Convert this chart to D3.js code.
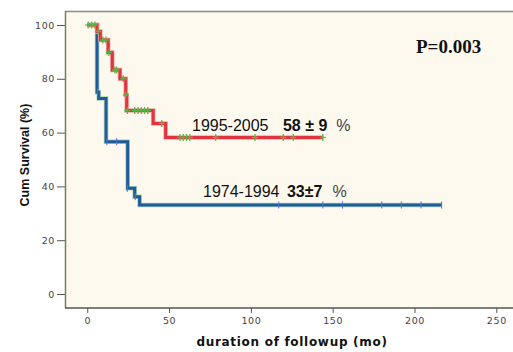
<!DOCTYPE html>
<html>
<head>
<meta charset="utf-8">
<script src="https://cdn.jsdelivr.net/npm/d3@7"></script>
<style>
  body { margin: 0; background: #fff; }
  svg { display: block; }
</style>
</head>
<body>
<div id="chart"></div>
<script>
// step points of each survival curve (time in months, cum survival in %)
const redTimes = [0, 6, 8, 12.8, 15.3, 20, 23.5, 24.1, 40.3, 47.9, 144];
const redSurv  = [100, 97.6, 94.4, 89.8, 83.3, 80, 74, 68.2, 63.4, 58.2, 58.2];
const redCensorTimes = [0.6, 2.7, 4.7, 6.6, 9.5, 11.4, 13.2, 16.9, 18, 22, 23.5,
                        24.5, 29, 31, 33, 35, 37, 45.5,
                        56.7, 58.7, 60.7, 62.7, 78.5, 102.5, 119.8, 125.9, 144];
const redCensorSurv  = [100, 100, 100, 97.6, 94.4, 94.4, 89.8, 83.3, 83.3, 80, 74,
                        68.2, 68.2, 68.2, 68.2, 68.2, 68.2, 63.4,
                        58.2, 58.2, 58.2, 58.2, 58.2, 58.2, 58.2, 58.2, 58.2];

const blueTimes = [0, 6, 7, 11.5, 24.7, 29, 32, 216.6];
const blueSurv  = [100, 75, 72.7, 56.6, 39.3, 36.2, 33.1, 33.1];
const blueCensorTimes = [6.3, 12, 18, 24.5, 29.3, 117, 144, 156, 180, 192, 204, 216.6];
const blueCensorSurv  = [75, 56.6, 56.6, 39.3, 36.2, 33.1, 33.1, 33.1, 33.1, 33.1, 33.1, 33.1];

const xTicks = [0, 50, 100, 150, 200, 250];
const yTicks = [0, 20, 40, 60, 80, 100];

const W = 513, H = 352;
const pLeft = 65, pRight = 513, pTop = 11, pBottom = 308;

const svg = d3.select("#chart").append("svg")
    .attr("width", W)
    .attr("height", H);

const x = d3.scaleLinear().domain([-13.6, 260.2]).range([pLeft, pRight]);
const y = d3.scaleLinear().domain([-5.2, 105.2]).range([pBottom, pTop]);

// plot background
svg.append("rect")
    .attr("x", pLeft).attr("y", pTop)
    .attr("width", pRight - pLeft).attr("height", pBottom - pTop)
    .attr("fill", "#fdf9ee");

// frame
svg.append("line")
    .attr("x1", pLeft).attr("x2", pRight).attr("y1", pTop + 0.5).attr("y2", pTop + 0.5)
    .attr("stroke", "#8a8a8a").attr("stroke-width", 1.5);

// axes
const xAxis = svg.append("g")
    .attr("transform", `translate(0,${pBottom})`)
    .call(d3.axisBottom(x).tickValues(xTicks).tickSize(5).tickPadding(4));
const yAxis = svg.append("g")
    .attr("transform", `translate(${pLeft},0)`)
    .call(d3.axisLeft(y).tickValues(yTicks).tickSize(8).tickPadding(2));

[xAxis, yAxis].forEach(a => {
    a.select(".domain").remove();
    a.selectAll("line").attr("stroke", "#555");
    a.selectAll("text")
        .attr("fill", "#444")
        .style("font-family", "DejaVu Sans, sans-serif")
        .style("font-size", "9.5px")
        .style("letter-spacing", "0.6px");
});

svg.append("line")
    .attr("x1", pLeft + 0.5).attr("x2", pLeft + 0.5).attr("y1", pTop).attr("y2", pBottom)
    .attr("stroke", "#6f7f66").attr("stroke-width", 1.5);
svg.append("line")
    .attr("x1", pLeft).attr("x2", pRight).attr("y1", pBottom).attr("y2", pBottom)
    .attr("stroke", "#555").attr("stroke-width", 1.5);

const line = d3.line()
    .x(d => x(d[0]))
    .y(d => y(d[1]))
    .curve(d3.curveStepAfter);

const bluePts = blueTimes.map((t, i) => [t, blueSurv[i]]);
const redPts = redTimes.map((t, i) => [t, redSurv[i]]);

// blue curve (1974-1994)
svg.append("path").datum(bluePts).attr("d", line)
    .attr("fill", "none").attr("stroke", "#a9cfb2").attr("stroke-width", 4.5);
svg.append("path").datum(bluePts).attr("d", line)
    .attr("fill", "none").attr("stroke", "#1f5c9c").attr("stroke-width", 3);

svg.selectAll(".bc")
    .data(blueCensorTimes.map((t, i) => [t, blueCensorSurv[i]]))
    .enter().append("line")
    .attr("class", "bc")
    .attr("x1", d => x(d[0])).attr("x2", d => x(d[0]))
    .attr("y1", d => y(d[1]) - 3.5).attr("y2", d => y(d[1]) + 3.5)
    .attr("stroke", "#4f73d4").attr("stroke-width", 1);

// red curve (1995-2005)
svg.append("path").datum(redPts).attr("d", line)
    .attr("fill", "none").attr("stroke", "#efaaa6").attr("stroke-width", 4.5);
svg.append("path").datum(redPts).attr("d", line)
    .attr("fill", "none").attr("stroke", "#e2343f").attr("stroke-width", 3);

const rc = svg.selectAll(".rc")
    .data(redCensorTimes.map((t, i) => [t, redCensorSurv[i]]))
    .enter().append("g")
    .attr("class", "rc")
    .attr("transform", d => `translate(${x(d[0])},${y(d[1])})`);
rc.append("line").attr("x1", 0).attr("x2", 0).attr("y1", -3.5).attr("y2", 3.5)
    .attr("stroke", "#56b948").attr("stroke-width", 1.3);
rc.append("line").attr("x1", -3).attr("x2", 3).attr("y1", 0).attr("y2", 0)
    .attr("stroke", "#56b948").attr("stroke-width", 1.3);

// annotations
const lab1 = svg.append("text")
    .attr("x", 192).attr("y", 131)
    .style("font-family", "Liberation Sans, Arial, sans-serif")
    .style("font-size", "16px").attr("fill", "#111");
lab1.append("tspan").text("1995-2005 ");
lab1.append("tspan").attr("dx", 10).style("font-weight", "bold").text("58 ± 9");
lab1.append("tspan").attr("dx", 9).attr("fill", "#444").text("%");

const lab2 = svg.append("text")
    .attr("x", 203).attr("y", 197)
    .style("font-family", "Liberation Sans, Arial, sans-serif")
    .style("font-size", "16px").attr("fill", "#111");
lab2.append("tspan").text("1974-1994 ");
lab2.append("tspan").attr("dx", 3).style("font-weight", "bold").text("33±7");
lab2.append("tspan").attr("dx", 10).attr("fill", "#444").text("%");

svg.append("text")
    .attr("x", 416).attr("y", 53)
    .style("font-family", "Liberation Serif, Times New Roman, serif")
    .style("font-size", "19px").style("font-weight", "bold")
    .attr("fill", "#111")
    .text("P=0.003");

// axis titles
svg.append("text")
    .attr("x", 292).attr("y", 346)
    .attr("text-anchor", "middle")
    .style("font-family", "DejaVu Sans, sans-serif")
    .style("font-size", "12px").style("font-weight", "bold")
    .style("letter-spacing", "0.7px")
    .attr("fill", "#111")
    .text("duration of followup (mo)");

svg.append("text")
    .attr("transform", "translate(29,155) rotate(-90)")
    .attr("text-anchor", "middle")
    .style("font-family", "Liberation Sans, Arial, sans-serif")
    .style("font-size", "12.5px").style("font-weight", "bold")
    .attr("fill", "#111")
    .text("Cum Survival (%)");
</script>
</body>
</html>
